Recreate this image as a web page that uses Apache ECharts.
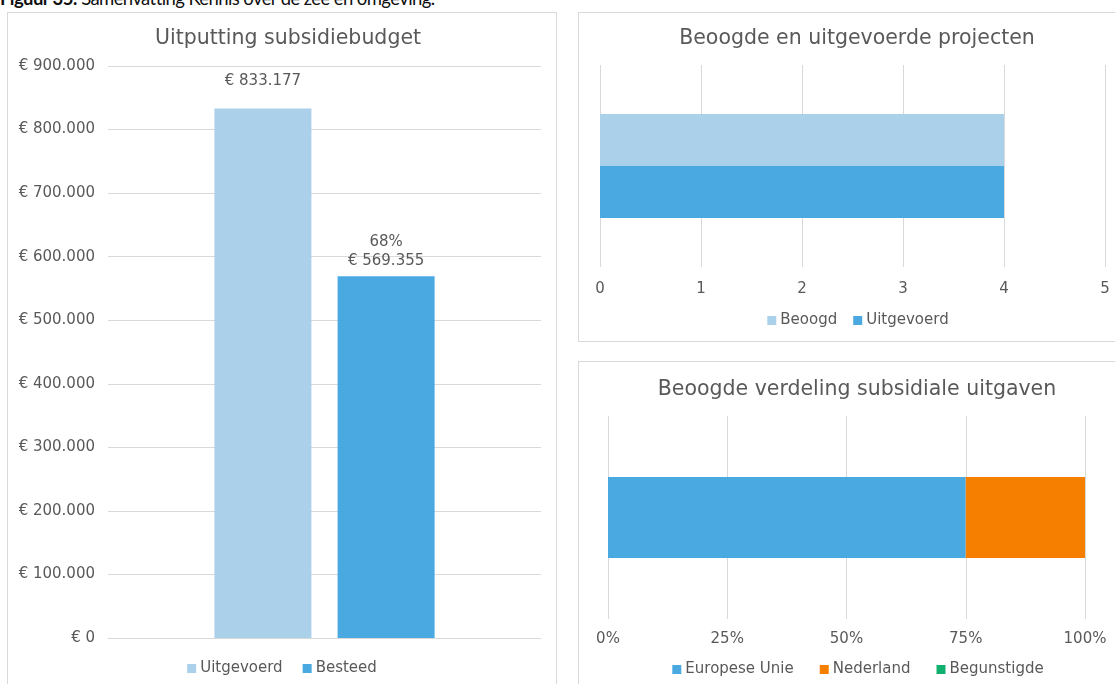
<!DOCTYPE html>
<html>
<head>
<meta charset="utf-8">
<script src="https://cdn.jsdelivr.net/npm/echarts@6/dist/echarts.min.js"></script>
<style>
  html, body { margin: 0; padding: 0; background: #fff; overflow: hidden; }
  body { width: 1115px; height: 684px; position: relative; }
  .caption {
    position: absolute; left: 0; top: -12px;
    font-family: Lato, sans-serif; font-size: 18.5px; letter-spacing: -0.6px;
    color: #111; white-space: nowrap; line-height: 20px;
  }
  .panel {
    position: absolute; border: 1px solid #d9d9d9; background: #fff;
    box-sizing: border-box;
  }
  #budget { left: 7px; top: 12px; width: 550px; height: 690px; }
  #projects { left: 578px; top: 12px; width: 560px; height: 330px; }
  #verdeling { left: 578px; top: 361px; width: 560px; height: 340px; }
</style>
</head>
<body>
<div class="caption"><b>Figuur 35:</b> Samenvatting Kennis over de zee en omgeving.</div>
<div id="budget" class="panel"></div>
<div id="projects" class="panel"></div>
<div id="verdeling" class="panel"></div>
<script>
// --- data ---
const budgetSeries = ['Uitgevoerd', 'Besteed'];
const budgetValues = [833177, 569355];

const projectSeries = ['Beoogd', 'Uitgevoerd'];
const projectValues = [4, 4];

const verdelingSeries = ['Europese Unie', 'Nederland', 'Begunstigde'];
const verdelingValues = [75, 25, 0];

const lightBlue = '#abd0ea';
const blue = '#4aa9e0';
const orange = '#f77f00';
const green = '#12b06e';
const textColor = '#595959';
const gridColor = '#d9d9d9';
const font = '"DejaVu Sans", Verdana, sans-serif';

const dotted = v => String(v).replace(/\B(?=(\d{3})+(?!\d))/g, '.');
const euro = v => '€ ' + dotted(v);

const titleStyle = { color: textColor, fontSize: 20.5, fontWeight: 'normal', fontFamily: font };
const labelStyle = { color: textColor, fontSize: 15, fontFamily: font };
const legendBase = {
  icon: 'rect', itemWidth: 9, itemHeight: 9,
  textStyle: { color: textColor, fontSize: 15, fontFamily: font, padding: [0, 0, 0, -1] }
};

// --- Uitputting subsidiebudget ---
const budgetChart = echarts.init(document.getElementById('budget'));
const pct = Math.round(budgetValues[1] / budgetValues[0] * 100);
budgetChart.setOption({
  animation: false,
  title: { text: 'Uitputting subsidiebudget', left: 275, top: 10, textAlign: 'center', textStyle: titleStyle },
  legend: Object.assign({ data: budgetSeries, left: 'center', top: 643, itemGap: 20 }, legendBase),
  grid: { left: 100, top: 53, width: 433, height: 572 },
  xAxis: {
    type: 'category', data: [''],
    axisLine: { lineStyle: { color: gridColor } },
    axisTick: { show: false }, axisLabel: { show: false }
  },
  yAxis: {
    type: 'value', min: 0, max: 900000, interval: 100000,
    axisLabel: Object.assign({ margin: 13, formatter: euro }, labelStyle),
    splitLine: { lineStyle: { color: gridColor } },
    axisLine: { show: false }, axisTick: { show: false }
  },
  series: [
    {
      name: budgetSeries[0], type: 'bar', data: [budgetValues[0]],
      barWidth: 97, barGap: '27%', itemStyle: { color: lightBlue },
      label: Object.assign({ show: true, position: 'top', distance: 20, formatter: p => euro(p.value) }, labelStyle)
    },
    {
      name: budgetSeries[1], type: 'bar', data: [budgetValues[1]],
      barWidth: 97, itemStyle: { color: blue },
      label: Object.assign({ show: true, position: 'top', distance: 6, lineHeight: 19,
        formatter: p => pct + '%\n' + euro(p.value) }, labelStyle)
    }
  ]
});

// --- Beoogde en uitgevoerde projecten ---
const projectChart = echarts.init(document.getElementById('projects'));
projectChart.setOption({
  animation: false,
  title: { text: 'Beoogde en uitgevoerde projecten', left: 273, top: 10, textAlign: 'center', textStyle: titleStyle },
  legend: Object.assign({ data: projectSeries, left: 'center', top: 295, itemGap: 16 }, legendBase),
  grid: { left: 21, top: 52, width: 505, height: 202 },
  xAxis: {
    type: 'value', min: 0, max: 5, interval: 1,
    axisLabel: Object.assign({ margin: 15 }, labelStyle),
    splitLine: { lineStyle: { color: gridColor } },
    axisLine: { show: false }, axisTick: { show: false }
  },
  yAxis: {
    type: 'category', data: [''], inverse: true,
    axisLine: { show: false }, axisTick: { show: false }, axisLabel: { show: false }
  },
  series: projectSeries.map((name, i) => ({
    name, type: 'bar', data: [projectValues[i]],
    barWidth: 52, barGap: '0%',
    itemStyle: { color: i === 0 ? lightBlue : blue }
  }))
});

// --- Beoogde verdeling subsidiale uitgaven ---
const verdelingChart = echarts.init(document.getElementById('verdeling'));
const verdelingColors = [blue, orange, green];
verdelingChart.setOption({
  animation: false,
  title: { text: 'Beoogde verdeling subsidiale uitgaven', left: 273, top: 12, textAlign: 'center', textStyle: titleStyle },
  legend: Object.assign({ data: verdelingSeries, left: 'center', top: 295, itemGap: 26 }, legendBase),
  grid: { left: 29, top: 54, width: 477, height: 203 },
  xAxis: {
    type: 'value', min: 0, max: 100, interval: 25,
    axisLabel: Object.assign({ margin: 13, formatter: '{value}%' }, labelStyle),
    splitLine: { lineStyle: { color: gridColor } },
    axisLine: { show: false }, axisTick: { show: false }
  },
  yAxis: {
    type: 'category', data: [''],
    axisLine: { show: false }, axisTick: { show: false }, axisLabel: { show: false }
  },
  series: verdelingSeries.map((name, i) => ({
    name, type: 'bar', stack: 'totaal', data: [verdelingValues[i]],
    barWidth: 81, itemStyle: { color: verdelingColors[i] }
  }))
});
</script>
</body>
</html>
